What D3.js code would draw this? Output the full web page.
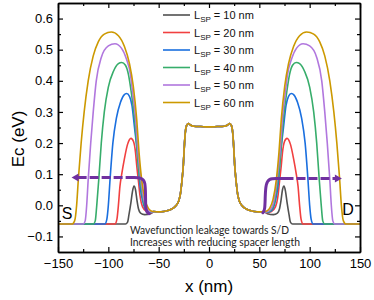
<!DOCTYPE html>
<html>
<head>
<meta charset="utf-8">
<script src="https://cdn.jsdelivr.net/npm/d3@7"></script>
<style>
  body { margin: 0; background: #fff; }
  svg { display: block; font-family: "Liberation Sans", Arial, sans-serif; }
</style>
</head>
<body>
<div id="chart"></div>
<script>
// spacer lengths and Origin line colours
const spacerLengths = [10, 20, 30, 40, 50, 60];
const lineColors = ['#515151', '#F14040', '#1A6FDF', '#37AD6B', '#B177DE', '#CC9900'];

const xTicks = [-150, -100, -50, 0, 50, 100, 150];
const xMinorTicks = [-125, -75, -25, 25, 75, 125];
const yTicks = [-0.1, 0, 0.1, 0.2, 0.3, 0.4, 0.5, 0.6];
const yMinorTicks = [-0.05, 0.05, 0.15, 0.25, 0.35, 0.45, 0.55];

// source-side barrier of each curve [x (nm), Ec (eV)]
const barrier10 = [[-150, -0.06], [-83, -0.06], [-81, -0.055], [-79.5, -0.03], [-77.5, 0.01], [-76, 0.045], [-74.5, 0.062],
  [-73, 0.05], [-71.5, 0.015], [-70, -0.012], [-68, -0.025], [-64, -0.03], [-58, -0.027]];
const barrier20 = [[-150, -0.06], [-93.5, -0.06], [-91.5, -0.045], [-90, 0.0], [-88.5, 0.06], [-86.7, 0.1], [-84, 0.15],
  [-81, 0.195], [-77.5, 0.215], [-75, 0.205], [-73, 0.17], [-71.8, 0.128], [-70, 0.075], [-68.5, 0.03], [-66, -0.005],
  [-62, -0.02], [-57, -0.024]];
const barrier30 = [[-150, -0.06], [-103.5, -0.06], [-101.5, -0.045], [-100, 0.0], [-98.3, 0.083], [-95.5, 0.2], [-92, 0.28],
  [-88, 0.33], [-84.5, 0.354], [-81.8, 0.359], [-79, 0.35], [-76.5, 0.32], [-74, 0.25], [-71.2, 0.17], [-68.5, 0.062],
  [-66, 0.015], [-62, -0.018], [-57, -0.023]];
const barrier40 = [[-150, -0.06], [-115, -0.06], [-113, -0.05], [-111.5, 0.0], [-109.5, 0.083], [-107, 0.2], [-104, 0.3],
  [-100, 0.38], [-95, 0.43], [-90, 0.455], [-86.7, 0.459], [-83, 0.45], [-80, 0.42], [-77.5, 0.37], [-74, 0.28],
  [-72, 0.2], [-70, 0.12], [-67.5, 0.06], [-65, 0.01], [-61, -0.017], [-57, -0.022]];
const barrier50 = [[-150, -0.06], [-125, -0.06], [-123, -0.05], [-121.5, 0.0], [-120, 0.083], [-117.5, 0.2], [-115, 0.3],
  [-112, 0.4], [-107, 0.475], [-100, 0.512], [-93.4, 0.519], [-87, 0.505], [-82, 0.47], [-78, 0.42], [-76.5, 0.38],
  [-73, 0.28], [-70.5, 0.17], [-67.5, 0.08], [-64.5, 0.015], [-61, -0.014], [-57, -0.021]];
const barrier60 = [[-150, -0.06], [-136, -0.06], [-133.5, -0.05], [-131.5, 0.0], [-129.8, 0.083], [-127, 0.2], [-124, 0.3],
  [-120, 0.4], [-115, 0.48], [-110, 0.525], [-104, 0.55], [-97, 0.557], [-90, 0.545], [-84, 0.51], [-79, 0.455],
  [-75.2, 0.382], [-71.8, 0.276], [-69.5, 0.17], [-66.9, 0.083], [-63.6, 0.019], [-60.5, -0.008], [-58, -0.017]];
const barriers = [barrier10, barrier20, barrier30, barrier40, barrier50, barrier60];

// channel part, same for every spacer length
const channel = [[-55, -0.02], [-50, -0.021], [-45, -0.02], [-40, -0.016], [-36, -0.01], [-32.5, 0.0], [-30, 0.015],
  [-28.5, 0.035], [-27, 0.075], [-25.5, 0.13], [-24.5, 0.19], [-23.5, 0.235], [-22.3, 0.256], [-20.5, 0.263],
  [-18.5, 0.258], [-15, 0.254], [-8, 0.253], [0, 0.252]];

// purple leakage arrows
const leftArrowDash = [[-130.5, 0.089], [-74, 0.089]];
const leftArrowBend = [[-76, 0.089], [-66.5, 0.089], [-63.3, 0.075], [-63, 0.03], [-63, -0.005], [-62, -0.022], [-59.5, -0.027]];
const leftArrowTip = [-136.5, 0.089];
const rightArrowBend = [[53.5, -0.024], [55.6, -0.015], [55.8, 0.03], [56.5, 0.07], [60, 0.086], [66, 0.086], [77, 0.086]];
const rightArrowDash = [[75, 0.086], [126, 0.086]];
const rightArrowTip = [132, 0.086];

const W = 374, H = 300;
const svg = d3.select('#chart').append('svg').attr('width', W).attr('height', H);

const x = d3.scaleLinear().domain([-150, 150]).range([58, 360]);
const y = d3.scaleLinear().domain([-0.15, 0.65]).range([252, 3]);

// full profile: barrier + channel, mirrored for the drain side
const profile = (left) => {
  const half = left.concat(channel);
  const mirror = half.filter(p => p[0] < 0).map(p => [-p[0], p[1]]).reverse();
  return half.concat(mirror);
};

const line = d3.line().x(d => x(d[0])).y(d => y(d[1])).curve(d3.curveMonotoneX);

barriers.forEach((b, i) => {
  svg.append('path')
    .attr('d', line(profile(b)))
    .attr('fill', 'none')
    .attr('stroke', lineColors[i])
    .attr('stroke-width', 1.6)
    .attr('stroke-linejoin', 'round');
});

// arrows
const purple = '#7030A0';
const bend = d3.line().x(d => x(d[0])).y(d => y(d[1])).curve(d3.curveBasis);
const straight = d3.line().x(d => x(d[0])).y(d => y(d[1]));

svg.append('path').attr('d', straight(leftArrowDash))
  .attr('fill', 'none').attr('stroke', purple).attr('stroke-width', 3).attr('stroke-dasharray', '9,3');
svg.append('path').attr('d', bend(leftArrowBend))
  .attr('fill', 'none').attr('stroke', purple).attr('stroke-width', 3).attr('stroke-linecap', 'round');
svg.append('path').attr('d', straight(rightArrowDash))
  .attr('fill', 'none').attr('stroke', purple).attr('stroke-width', 3).attr('stroke-dasharray', '9,3');
svg.append('path').attr('d', bend(rightArrowBend))
  .attr('fill', 'none').attr('stroke', purple).attr('stroke-width', 3).attr('stroke-linecap', 'round');

const head = (tip, dir) => {
  const tx = x(tip[0]), ty = y(tip[1]);
  return `M${tx},${ty} L${tx - dir * 7},${ty - 4} L${tx - dir * 7},${ty + 4} Z`;
};
svg.append('path').attr('d', head(leftArrowTip, -1)).attr('fill', purple);
svg.append('path').attr('d', head(rightArrowTip, 1)).attr('fill', purple);

// axes, ticks inside
const fmtY = d3.format('.1f');
const ax = (g, axis) => {
  g.call(axis);
  g.selectAll('.tick line').attr('stroke', '#000').attr('stroke-width', 1.2);
  g.select('.domain').attr('stroke', '#000').attr('stroke-width', 1.5);
  g.selectAll('text').attr('fill', '#000').attr('font-size', 13)
    .attr('font-family', '"Liberation Sans", Arial, sans-serif');
};

ax(svg.append('g').attr('transform', 'translate(0,252)'),
  d3.axisBottom(x).tickValues(xTicks).tickSizeInner(-5).tickSizeOuter(0).tickPadding(7).tickFormat(d3.format('d')));
ax(svg.append('g').attr('transform', 'translate(0,252)'),
  d3.axisBottom(x).tickValues(xMinorTicks).tickSizeInner(-3).tickSizeOuter(0).tickFormat(''));
ax(svg.append('g').attr('transform', 'translate(0,3)'),
  d3.axisTop(x).tickValues(xTicks).tickSizeInner(-5).tickSizeOuter(0).tickFormat(''));
ax(svg.append('g').attr('transform', 'translate(0,3)'),
  d3.axisTop(x).tickValues(xMinorTicks).tickSizeInner(-3).tickSizeOuter(0).tickFormat(''));
ax(svg.append('g').attr('transform', 'translate(58,0)'),
  d3.axisLeft(y).tickValues(yTicks).tickSizeInner(-5).tickSizeOuter(0).tickPadding(5).tickFormat(fmtY));
ax(svg.append('g').attr('transform', 'translate(58,0)'),
  d3.axisLeft(y).tickValues(yMinorTicks).tickSizeInner(-3).tickSizeOuter(0).tickFormat(''));
ax(svg.append('g').attr('transform', 'translate(360,0)'),
  d3.axisRight(y).tickValues(yTicks).tickSizeInner(-5).tickSizeOuter(0).tickFormat(''));
ax(svg.append('g').attr('transform', 'translate(360,0)'),
  d3.axisRight(y).tickValues(yMinorTicks).tickSizeInner(-3).tickSizeOuter(0).tickFormat(''));

// axis titles
svg.append('text').attr('x', 209).attr('y', 292).attr('text-anchor', 'middle')
  .attr('font-size', 17).text('x (nm)');
svg.append('text').attr('transform', 'translate(24,139) rotate(-90)').attr('text-anchor', 'middle')
  .attr('font-size', 17).text('Ec (eV)');

// legend
const legend = svg.append('g');
spacerLengths.forEach((L, i) => {
  const ly = 15 + i * 17.5;
  legend.append('line').attr('x1', 163).attr('x2', 190).attr('y1', ly).attr('y2', ly)
    .attr('stroke', lineColors[i]).attr('stroke-width', 1.6);
  const t = legend.append('text').attr('x', 194).attr('y', ly + 4).attr('font-size', 11).attr('fill', '#111');
  t.append('tspan').text('L');
  t.append('tspan').attr('dy', 3).attr('font-size', 8).text('SP');
  t.append('tspan').attr('dy', -3).text(` = ${L} nm`);
});

// S / D labels
svg.append('text').attr('x', 67).attr('y', 219).attr('text-anchor', 'middle').attr('font-size', 16).text('S');
svg.append('text').attr('x', 348).attr('y', 215).attr('text-anchor', 'middle').attr('font-size', 16).text('D');

// note
const note = svg.append('g').attr('font-family', 'Lato, "Open Sans", sans-serif').attr('font-size', 10.5).attr('fill', '#222');
note.append('text').attr('x', 130).attr('y', 234).attr('textLength', 159).attr('lengthAdjust', 'spacingAndGlyphs')
  .text('Wavefunction leakage towards S/D');
note.append('text').attr('x', 130).attr('y', 246).attr('textLength', 170).attr('lengthAdjust', 'spacingAndGlyphs')
  .text('Increases with reducing spacer length');
</script>
</body>
</html>
